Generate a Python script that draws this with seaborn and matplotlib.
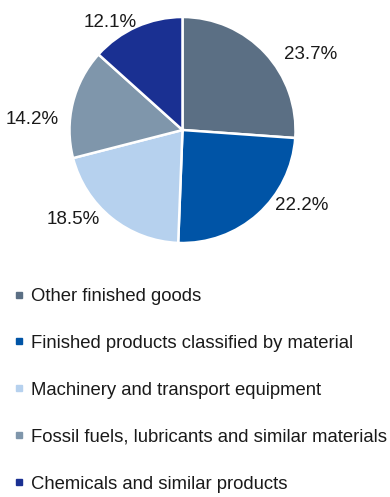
import numpy as np
import matplotlib
matplotlib.use("Agg")
import matplotlib.pyplot as plt
from matplotlib.lines import Line2D
import seaborn as sns

# Export structure by product group (share, %)
categories = [
    "Other finished goods",
    "Finished products classified by material",
    "Machinery and transport equipment",
    "Fossil fuels, lubricants and similar materials",
    "Chemicals and similar products",
]
shares = [23.7, 22.2, 18.5, 14.2, 12.1]
colors = ["#5B6F84", "#0054A6", "#B6D1EE", "#7F96AB", "#1A3092"]

sns.set_theme(style="white")
plt.rcParams["font.family"] = ["Liberation Sans", "DejaVu Sans"]

W, H = 390, 497
fig = plt.figure(figsize=(W / 100, H / 100), dpi=100)

# pie axes: centre (182, 130) px, radius 113 px
cx, cy, r = 182.5, 130, 113
ax = fig.add_axes([(cx - r) / W, (H - cy - r) / H, 2 * r / W, 2 * r / H])
wedges, _ = ax.pie(
    shares,
    colors=colors,
    startangle=90,
    counterclock=False,
    radius=1.0,
    wedgeprops=dict(edgecolor="white", linewidth=1.8),
)
ax.set_xlim(-1, 1)
ax.set_ylim(-1, 1)
ax.set_aspect("equal")
ax.axis("off")

# value labels outside each wedge: (angle shift from bisector, distance)
label_place = [(-12.4, 1.32), (15.7, 1.25), (-11.7, 1.25), (9.8, 1.33), (9.9, 1.15)]
for w, v, (shift, d) in zip(wedges, shares, label_place):
    ang = np.deg2rad((w.theta1 + w.theta2) / 2 + shift)
    ax.text(d * np.cos(ang), d * np.sin(ang), f"{v:.1f}%",
            ha="center", va="center", fontsize=13.5, color="#1a1a1a")

handles = [Line2D([0], [0], marker="s", linestyle="none", markersize=4.5,
                  markerfacecolor=c, markeredgecolor=c) for c in colors]
fig.legend(handles, categories, loc="upper left",
           bbox_to_anchor=(13 / W, 1 - 288 / H), frameon=False,
           fontsize=13.3, labelspacing=1.62, handlelength=0.6,
           handletextpad=0.4, borderaxespad=0, borderpad=0,
           labelcolor="#1a1a1a")

fig.savefig("out.png", dpi=100)
